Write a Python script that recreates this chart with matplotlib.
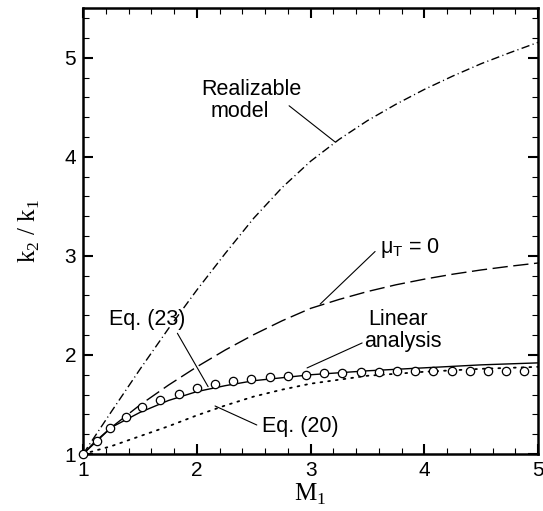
import matplotlib
matplotlib.use("Agg")
import matplotlib.pyplot as plt
from matplotlib.ticker import MultipleLocator

# curves
realizable_x = [1.0, 1.25, 1.5, 1.75, 2.0, 2.25, 2.5, 2.75, 3.0, 3.25, 3.5, 3.75, 4.0, 4.25, 4.5, 4.75, 5.0]
realizable_y = [1.0, 1.43, 1.855, 2.265, 2.655, 3.025, 3.38, 3.69, 3.955, 4.175, 4.365, 4.53, 4.68, 4.815, 4.94, 5.05, 5.155]

mu0_x = [1.0, 1.25, 1.5, 1.75, 2.0, 2.25, 2.5, 2.75, 3.0, 3.25, 3.5, 3.75, 4.0, 4.25, 4.5, 4.75, 5.0]
mu0_y = [1.0, 1.27, 1.495, 1.695, 1.88, 2.05, 2.205, 2.345, 2.47, 2.56, 2.64, 2.708, 2.765, 2.815, 2.858, 2.895, 2.928]

eq23_x = [1.0, 1.1, 1.25, 1.5, 1.75, 2.0, 2.25, 2.5, 2.75, 3.0, 3.5, 4.0, 4.5, 5.0]
eq23_y = [1.0, 1.12, 1.27, 1.42, 1.54, 1.63, 1.69, 1.74, 1.77, 1.80, 1.84, 1.87, 1.90, 1.92]

eq20_x = [1.0, 1.25, 1.5, 1.75, 2.0, 2.25, 2.5, 2.75, 3.0, 3.25, 3.5, 3.75, 4.0, 4.5, 5.0]
eq20_y = [1.0, 1.08, 1.18, 1.28, 1.39, 1.49, 1.58, 1.65, 1.71, 1.75, 1.79, 1.81, 1.83, 1.86, 1.88]

linear_x = [1.0, 1.12, 1.24, 1.38, 1.52, 1.68, 1.84, 2.0, 2.16, 2.32, 2.48, 2.64, 2.80,
            2.96, 3.12, 3.28, 3.44, 3.60, 3.76, 3.92, 4.08, 4.24, 4.40, 4.56, 4.72, 4.88]
linear_y = [1.0, 1.134, 1.26, 1.377, 1.47, 1.55, 1.61, 1.67, 1.71, 1.74, 1.76, 1.78, 1.79,
            1.80, 1.815, 1.82, 1.83, 1.83, 1.835, 1.835, 1.84, 1.84, 1.84, 1.84, 1.84, 1.84]

sans = "Liberation Sans"
serif = "Liberation Serif"

fig = plt.figure(figsize=(5.43, 5.11), dpi=100)
ax = fig.add_axes([0.153, 0.1115, 0.838, 0.8725])

ax.plot(realizable_x, realizable_y, color="black", lw=1.0, dashes=(6, 2.4, 0.8, 2.4))
ax.plot(mu0_x, mu0_y, color="black", lw=1.0, dashes=(11, 4))
ax.plot(eq23_x, eq23_y, color="black", lw=1.0)
ax.plot(eq20_x, eq20_y, color="black", lw=1.3, dashes=(1, 3.3), dash_capstyle="round")
ax.plot(linear_x, linear_y, ls="none", marker="o", ms=6, mfc="white", mec="black",
        mew=0.9, zorder=5, clip_on=False)

ax.set_xlim(1, 5)
ax.set_ylim(1, 5.5)
ax.xaxis.set_major_locator(MultipleLocator(1))
ax.xaxis.set_minor_locator(MultipleLocator(0.2))
ax.yaxis.set_major_locator(MultipleLocator(1))
ax.yaxis.set_minor_locator(MultipleLocator(0.2))
ax.tick_params(which="both", direction="in", top=True, right=True)
ax.tick_params(which="major", length=7.5, width=1.5, pad=5)
ax.tick_params(which="minor", length=4.3, width=0.8)
for s in ax.spines.values():
    s.set_linewidth(1.8)
for lab in ax.get_xticklabels() + ax.get_yticklabels():
    lab.set_fontfamily(sans)
    lab.set_fontsize(15)

ax.set_xlabel("M$_\\mathregular{1}$", fontfamily=serif, fontsize=18, labelpad=1)
ax.set_ylabel("k$_\\mathregular{2}$ / k$_\\mathregular{1}$", fontfamily=serif, fontsize=18, labelpad=16)

# labels and leader lines
tkw = dict(fontfamily=sans, fontsize=15.5, ha="center", va="baseline")
ax.text(2.477, 4.626, "Realizable", **tkw)
ax.text(2.38, 4.404, "model", **tkw)
ax.text(3.87, 3.03, "μ$_\\mathregular{T}$ = 0", **tkw)
ax.text(3.769, 2.303, "Linear", **tkw)
ax.text(3.809, 2.081, "analysis", **tkw)
ax.text(1.563, 2.303, "Eq. (23)", **tkw)
ax.text(2.908, 1.225, "Eq. (20)", **tkw)

lkw = dict(arrowprops=dict(arrowstyle="-", lw=0.8, color="black", shrinkA=0, shrinkB=0))
ax.annotate("", xy=(3.215, 4.15), xytext=(2.811, 4.515), **lkw)
ax.annotate("", xy=(3.084, 2.513), xytext=(3.567, 3.044), **lkw)
ax.annotate("", xy=(2.969, 1.869), xytext=(3.453, 2.121), **lkw)
ax.annotate("", xy=(2.099, 1.680), xytext=(1.829, 2.219), **lkw)
ax.annotate("", xy=(2.160, 1.485), xytext=(2.527, 1.293), **lkw)

fig.savefig("out.png", dpi=100)
